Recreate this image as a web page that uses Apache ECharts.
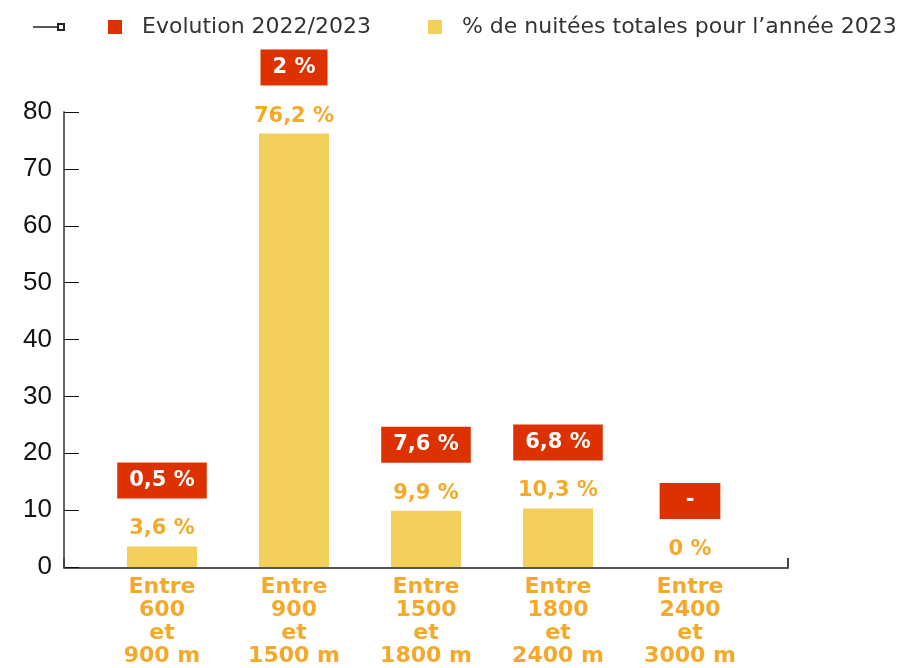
<!DOCTYPE html>
<html>
<head>
<meta charset="utf-8">
<script src="https://cdn.jsdelivr.net/npm/echarts@6/dist/echarts.min.js"></script>
<style>
  html, body { margin: 0; padding: 0; background: #fff; }
  #chart { width: 916px; height: 668px; }
</style>
</head>
<body>
<div id="chart"></div>
<script>
var categories = ['Entre\n600\net\n900 m', 'Entre\n900\net\n1500 m', 'Entre\n1500\net\n1800 m', 'Entre\n1800\net\n2400 m', 'Entre\n2400\net\n3000 m']
// % de nuitées totales 2023
var nuitees = [3.6, 76.2, 9.9, 10.3, 0]
// évolution 2022/2023 (null = pas de donnée)
var evolution = [0.5, 2, 7.6, 6.8, null]
var yTicks = { min: 0, max: 80, interval: 10 }

var RED = '#dd3100'
var YELLOW = '#f3d05b'
var ORANGE = '#f4a92b'

function fmt(v) {
  return String(v).replace('.', ',') + ' %'
}

var chart = echarts.init(document.getElementById('chart'))
chart.setOption({
  animation: false,
  legend: [{
    left: 28,
    top: 11,
    itemWidth: 32,
    itemHeight: 14,
    data: [{ name: ' ', icon: 'path://M0,3.2H25V4.8H0Z M24,0H32V8H24Z M26,2V6H30V2Z', itemStyle: { color: '#222' } }],
    textStyle: { fontSize: 22 }
  }, {
    left: 103,
    top: 11,
    itemWidth: 44,
    itemHeight: 14,
    itemGap: 57,
    data: [
      { name: 'Evolution 2022/2023', icon: 'path://M0,0H1V1H0Z', itemStyle: { color: RED } },
      { name: '% de nuitées totales pour l’année 2023', icon: 'path://M0,0H1V1H0Z', itemStyle: { color: YELLOW } }
    ],
    textStyle: { fontFamily: 'DejaVu Sans', fontSize: 22, color: '#333' }
  }],
  grid: [
    { left: 96, right: 160, top: 112, bottom: 100 },
    { left: 64, right: 128, top: 112, bottom: 100 }
  ],
  xAxis: [{
    type: 'category',
    gridIndex: 0,
    data: categories,
    axisLine: { show: false },
    axisTick: { show: false },
    axisLabel: {
      interval: 0,
      margin: 9,
      color: ORANGE,
      fontFamily: 'DejaVu Sans',
      fontWeight: 'bold',
      fontSize: 22,
      lineHeight: 23
    }
  }, {
    type: 'value',
    gridIndex: 1,
    min: 0,
    max: 1,
    interval: 1,
    axisLine: { show: true, lineStyle: { color: '#555', width: 2 } },
    axisTick: { show: true, inside: true, length: 10, lineStyle: { color: '#444', width: 2 } },
    axisLabel: { show: false },
    splitLine: { show: false }
  }],
  yAxis: [{
    type: 'value',
    gridIndex: 0,
    min: yTicks.min,
    max: yTicks.max,
    interval: yTicks.interval,
    offset: 32,
    axisLine: { show: true, lineStyle: { color: '#666', width: 2 } },
    axisTick: { show: true, inside: true, length: 15, lineStyle: { color: '#111', width: 1 } },
    axisLabel: { margin: 12, color: '#111', fontFamily: '"Liberation Sans Narrow", "Liberation Sans"', fontSize: 26 },
    splitLine: { show: false }
  }, {
    type: 'value',
    gridIndex: 1,
    min: 0,
    max: 1,
    show: false
  }],
  series: [{
    name: ' ',
    type: 'line',
    xAxisIndex: 0,
    yAxisIndex: 0,
    data: []
  }, {
    name: '% de nuitées totales pour l’année 2023',
    type: 'bar',
    xAxisIndex: 0,
    yAxisIndex: 0,
    barWidth: 70,
    itemStyle: { color: YELLOW },
    data: nuitees,
    label: {
      show: true,
      position: 'top',
      distance: 7,
      color: ORANGE,
      fontFamily: 'DejaVu Sans',
      fontWeight: 'bold',
      fontSize: 21,
      formatter: function(p) { return fmt(p.value) }
    }
  }, {
    name: 'Evolution 2022/2023',
    type: 'scatter',
    xAxisIndex: 0,
    yAxisIndex: 0,
    symbolSize: 0,
    itemStyle: { color: RED, opacity: 1 },
    data: nuitees.map(function(v, i) {
      var item = { value: [i, v] }
      if (evolution[i] === null) item.label = { padding: [5, 26] }
      return item
    }),
    label: {
      show: true,
      position: 'top',
      distance: 48,
      color: '#fff',
      backgroundColor: RED,
      padding: [5, 12],
      lineHeight: 26,
      fontFamily: 'DejaVu Sans',
      fontWeight: 'bold',
      fontSize: 21,
      formatter: function(p) {
        var e = evolution[p.dataIndex]
        return e === null ? '-' : fmt(e)
      }
    }
  }]
})
</script>
</body>
</html>
